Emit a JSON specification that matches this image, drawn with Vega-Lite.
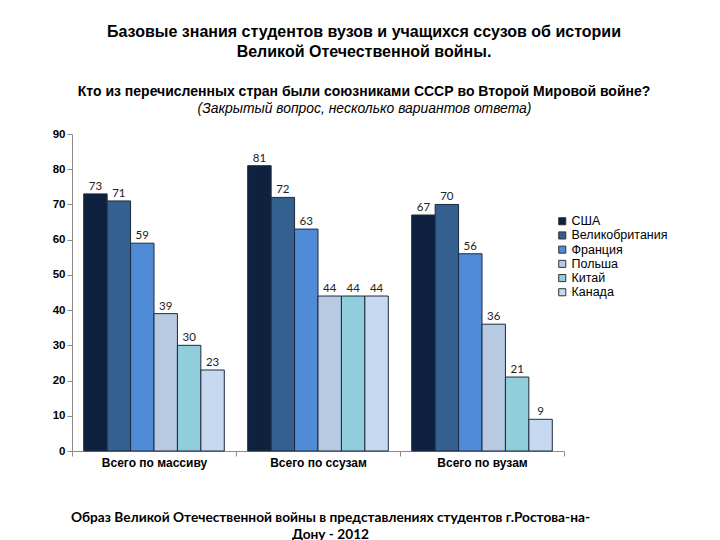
{
  "$schema": "https://vega.github.io/schema/vega-lite/v6.json",
  "width": 492,
  "height": 317,
  "autosize": "none",
  "padding": {"left": 72, "top": 134, "right": 156, "bottom": 89},
  "background": "white",
  "config": {"view": {"stroke": null}},
  "title": {
    "text": ["Базовые знания  студентов вузов  и учащихся ссузов об истории", "Великой Отечественной войны."],
    "subtitle": "Кто из перечисленных стран были союзниками СССР во Второй Мировой войне?",
    "anchor": "middle",
    "frame": "group",
    "dx": 46,
    "offset": 2,
    "font": "Liberation Sans",
    "fontSize": 16,
    "fontWeight": "bold",
    "lineHeight": 20,
    "color": "#000000",
    "subtitleFont": "Liberation Sans",
    "subtitleFontSize": 14,
    "subtitleFontWeight": "bold",
    "subtitleColor": "#000000",
    "subtitlePadding": 25
  },
  "data": {
    "values": [
      {"group": "Всего по массиву", "country": "США", "value": 73},
      {"group": "Всего по массиву", "country": "Великобритания", "value": 71},
      {"group": "Всего по массиву", "country": "Франция", "value": 59},
      {"group": "Всего по массиву", "country": "Польша", "value": 39},
      {"group": "Всего по массиву", "country": "Китай", "value": 30},
      {"group": "Всего по массиву", "country": "Канада", "value": 23},
      {"group": "Всего по ссузам", "country": "США", "value": 81},
      {"group": "Всего по ссузам", "country": "Великобритания", "value": 72},
      {"group": "Всего по ссузам", "country": "Франция", "value": 63},
      {"group": "Всего по ссузам", "country": "Польша", "value": 44},
      {"group": "Всего по ссузам", "country": "Китай", "value": 44},
      {"group": "Всего по ссузам", "country": "Канада", "value": 44},
      {"group": "Всего по вузам", "country": "США", "value": 67},
      {"group": "Всего по вузам", "country": "Великобритания", "value": 70},
      {"group": "Всего по вузам", "country": "Франция", "value": 56},
      {"group": "Всего по вузам", "country": "Польша", "value": 36},
      {"group": "Всего по вузам", "country": "Китай", "value": 21},
      {"group": "Всего по вузам", "country": "Канада", "value": 9}
    ]
  },
  "encoding": {
    "x": {
      "field": "group",
      "type": "nominal",
      "sort": ["Всего по массиву", "Всего по ссузам", "Всего по вузам"],
      "scale": {"paddingInner": 0, "paddingOuter": 0},
      "axis": {
        "labelAngle": 0,
        "tickBand": "extent",
        "domainColor": "#8c8c8c",
        "tickColor": "#8c8c8c",
        "tickSize": 5,
        "labelFont": "Liberation Sans",
        "labelFontWeight": "bold",
        "labelFontSize": 12,
        "labelColor": "#000000",
        "labelPadding": 1,
        "title": ["Образ Великой Отечественной войны в представлениях студентов г.Ростова-на-", "Дону - 2012"],
        "titleX": 258,
        "titleY": 59,
        "titleAlign": "center",
        "titleBaseline": "top",
        "titleFont": "Lato",
        "titleFontSize": 13.7,
        "titleFontWeight": "bold",
        "titleLineHeight": 17,
        "titleColor": "#000000"
      }
    },
    "xOffset": {
      "field": "country",
      "type": "nominal",
      "sort": ["США", "Великобритания", "Франция", "Польша", "Китай", "Канада"],
      "scale": {"paddingInner": 0, "paddingOuter": 0.5}
    },
    "y": {
      "field": "value",
      "type": "quantitative",
      "scale": {"domain": [0, 90]},
      "axis": {
        "values": [0, 10, 20, 30, 40, 50, 60, 70, 80, 90],
        "grid": false,
        "domainColor": "#8c8c8c",
        "tickColor": "#8c8c8c",
        "tickSize": 5,
        "labelFont": "Liberation Sans",
        "labelFontWeight": "bold",
        "labelFontSize": 11.5,
        "labelColor": "#000000",
        "labelPadding": 2,
        "title": "(Закрытый вопрос, несколько вариантов ответа)",
        "titleAngle": 0,
        "titleX": 292,
        "titleY": -26,
        "titleAlign": "center",
        "titleBaseline": "middle",
        "titleFont": "Liberation Sans",
        "titleFontSize": 13.9,
        "titleFontStyle": "italic",
        "titleFontWeight": "normal",
        "titleColor": "#000000"
      }
    }
  },
  "layer": [
    {
      "mark": {"type": "bar", "stroke": "#1c2a3c", "strokeWidth": 1},
      "encoding": {
        "color": {
          "field": "country",
          "type": "nominal",
          "sort": ["США", "Великобритания", "Франция", "Польша", "Китай", "Канада"],
          "scale": {
            "domain": ["США", "Великобритания", "Франция", "Польша", "Китай", "Канада"],
            "range": ["#0E2240", "#34608F", "#4F8BD7", "#B8C9E2", "#90CEDB", "#C6D9F1"]
          },
          "legend": {
            "orient": "none",
            "legendX": 484,
            "legendY": 81,
            "title": null,
            "symbolType": "square",
            "symbolSize": 50,
            "symbolStrokeColor": "#333333",
            "symbolStrokeWidth": 1,
            "labelFont": "Liberation Sans",
            "labelFontSize": 12.5,
            "labelColor": "#000000",
            "rowPadding": 1.2,
            "labelOffset": 3
          }
        }
      }
    },
    {
      "mark": {"type": "text", "dy": -7, "font": "Lato", "fontSize": 11.5, "color": "#222222"},
      "encoding": {"text": {"field": "value", "type": "quantitative"}}
    }
  ]
}
